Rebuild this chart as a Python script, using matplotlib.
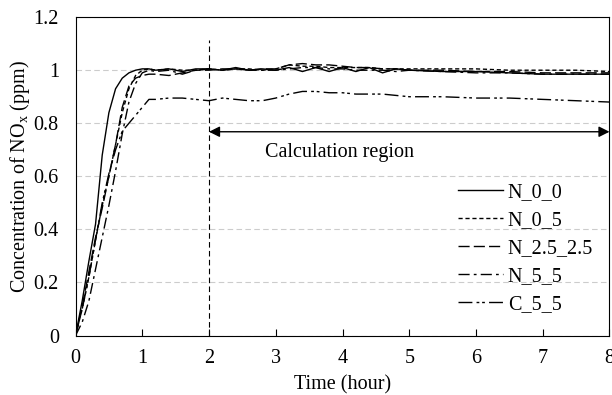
import matplotlib
matplotlib.use("Agg")
import matplotlib.pyplot as plt

# Data
time_h = [0, 0.1, 0.2, 0.3, 0.4, 0.5, 0.6, 0.7, 0.8, 0.9, 1.0, 1.1, 1.2, 1.4, 1.6, 1.8,
          2.0, 2.2, 2.4, 2.6, 2.8, 3.0, 3.2, 3.4, 3.6, 3.8, 4.0, 4.2, 4.4, 4.6,
          4.8, 5.0, 5.5, 6.0, 6.5, 7.0, 7.5, 8.0]
n_0_0 = [0, 0.13, 0.28, 0.42, 0.68, 0.84, 0.93, 0.97, 0.99, 1.0, 1.005, 1.005, 1.0, 1.005,
         0.995, 1.005, 1.005, 1.0, 1.01, 1.0, 1.005, 1.0, 1.01, 0.995, 1.01, 0.995,
         1.01, 0.995, 1.01, 0.99, 1.005, 1.0, 0.995, 0.995, 0.99, 0.985, 0.985, 0.985]
n_0_5 = [0, 0.1, 0.22, 0.36, 0.49, 0.6, 0.72, 0.84, 0.93, 0.98, 1.0, 1.005, 1.0, 1.005,
         1.0, 1.0, 1.005, 1.0, 1.005, 1.005, 1.0, 1.005, 1.02, 1.015, 1.015, 1.01,
         1.01, 1.01, 1.01, 1.005, 1.005, 1.005, 1.005, 1.005, 1.0, 1.0, 1.0, 0.995]
n_25_25 = [0, 0.11, 0.24, 0.37, 0.48, 0.6, 0.72, 0.86, 0.94, 0.97, 0.98, 0.985, 0.985, 0.98,
           0.99, 1.0, 1.0, 1.005, 1.005, 1.0, 1.005, 1.005, 1.02, 1.025, 1.02, 1.02,
           1.015, 1.01, 1.01, 1.005, 1.005, 1.0, 1.0, 0.995, 0.995, 0.99, 0.99, 0.99]
n_5_5 = [0, 0.05, 0.13, 0.25, 0.37, 0.49, 0.62, 0.76, 0.88, 0.95, 0.99, 1.0, 0.995, 1.0,
         0.985, 1.0, 1.005, 1.0, 1.005, 1.0, 1.0, 1.0, 1.005, 1.01, 1.01, 1.005,
         1.005, 1.0, 1.0, 1.0, 0.995, 1.0, 0.995, 0.99, 0.99, 0.985, 0.985, 0.985]
c_5_5 = [0, 0.1, 0.22, 0.36, 0.5, 0.61, 0.7, 0.77, 0.8, 0.83, 0.86, 0.89, 0.89, 0.895,
         0.895, 0.89, 0.885, 0.895, 0.89, 0.885, 0.885, 0.895, 0.91, 0.92, 0.92,
         0.915, 0.915, 0.91, 0.91, 0.91, 0.905, 0.9, 0.9, 0.895, 0.895, 0.89, 0.885, 0.88]

labels = ['N_0_0', 'N_0_5', 'N_2.5_2.5', 'N_5_5', 'C_5_5']
series = [n_0_0, n_0_5, n_25_25, n_5_5, c_5_5]
styles = ['-', (0, (3, 2)), (0, (8, 3)), (0, (8, 3, 2, 3)), (0, (10, 3, 2, 2, 2, 3))]

plt.rcParams['font.family'] = ['Liberation Serif', 'DejaVu Serif']
plt.rcParams['font.size'] = 14.5

fig = plt.figure(figsize=(6.12, 3.95), dpi=100)
ax = fig.add_axes([0.1234, 0.1506, 0.8725, 0.806])

for y, lab, ls in zip(series, labels, styles):
    ax.plot(time_h, y, color='black', linestyle=ls, linewidth=1.0, label=lab)

# start of calculation region
ax.plot([2, 2], [0, 1.113], color='black', linestyle=(0, (5, 3)), linewidth=0.8)
ax.annotate('', xy=(2, 0.768), xytext=(8, 0.768),
            arrowprops=dict(arrowstyle='<|-|>', color='black', lw=1.0,
                            shrinkA=0, shrinkB=0, mutation_scale=16))
ax.text(3.96, 0.69, 'Calculation region', ha='center', va='center')

ax.set_xlim(0, 8)
ax.set_ylim(0, 1.2)
ax.set_xticks(range(0, 9))
ax.set_yticks([0, 0.2, 0.4, 0.6, 0.8, 1.0, 1.2])
ax.set_yticklabels(['0', '0.2', '0.4', '0.6', '0.8', '1', '1.2'])
ax.yaxis.grid(True, color='#cccccc', linestyle=(0, (5, 3)), linewidth=0.8)
ax.set_axisbelow(True)
ax.tick_params(axis='x', direction='in', length=5, width=0.8, pad=10)
ax.tick_params(axis='y', length=0, pad=12)
for s in ax.spines.values():
    s.set_linewidth(0.8)

ax.set_xlabel('Time (hour)', labelpad=5)
ax.set_ylabel('Concentration of NO$_\\mathregular{x}$ (ppm)', labelpad=1)

ax.legend(loc='upper left', bbox_to_anchor=(0.702, 0.505), borderaxespad=0,
          frameon=False, handlelength=2.2, handletextpad=0.25, labelspacing=0.45)

fig.savefig('out.png', dpi=100)
